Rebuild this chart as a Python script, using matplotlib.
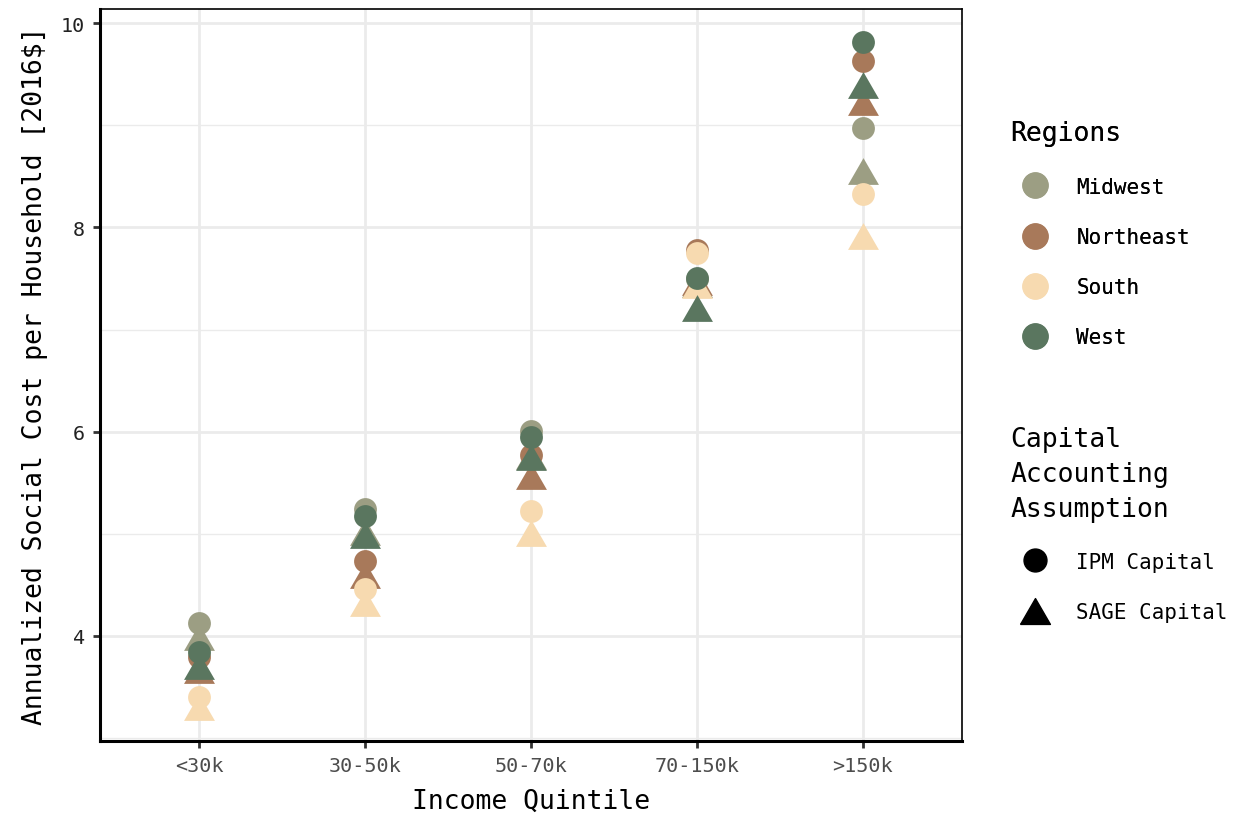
from matplotlib import pyplot as plt
from matplotlib.lines import Line2D

quintiles = ["<30k", "30-50k", "50-70k", "70-150k", ">150k"]
regions = ["Midwest", "Northeast", "South", "West"]
region_colors = ["#9C9E83", "#A8795A", "#F7DAB0", "#5A765F"]

# annualized social cost per household, one list per region and capital assumption
ipm = {
    "Midwest":   [4.13, 5.24, 6.01, 7.50, 8.97],
    "Northeast": [3.79, 4.73, 5.77, 7.78, 9.63],
    "South":     [3.40, 4.46, 5.22, 7.75, 8.33],
    "West":      [3.84, 5.17, 5.95, 7.51, 9.82],
}
sage = {
    "Midwest":   [3.99, 5.02, 5.76, 7.45, 8.55],
    "Northeast": [3.67, 4.60, 5.57, 7.47, 9.23],
    "South":     [3.30, 4.32, 5.01, 7.44, 7.92],
    "West":      [3.70, 4.99, 5.75, 7.21, 9.40],
}

plt.rcParams["font.family"] = ["DejaVu Sans Mono"]

# equilateral triangle like R's pch 17
tri = [(-1, -0.866), (1, -0.866), (0, 0.866), (-1, -0.866)]

fig = plt.figure(figsize=(12.34, 8.2), dpi=100)
ax = fig.add_axes([0.081, 0.0951, 0.6986, 0.8927])

x = list(range(len(quintiles)))
for region, color in zip(regions, region_colors):
    ax.scatter(x, ipm[region], s=270, marker="o", color=color, linewidths=0, zorder=3)
    ax.scatter(x, sage[region], s=495, marker=tri, color=color, linewidths=0, zorder=3)

ax.set_xlim(-0.6, 4.6)
ax.set_ylim(2.97, 10.14)
ax.set_xticks(x)
ax.set_xticklabels(quintiles)
ax.set_yticks([4, 6, 8, 10])
ax.set_yticks([3, 5, 7, 9], minor=True)
ax.set_xticks([], minor=True)

ax.grid(True, which="major", color="#EBEBEB", linewidth=2, zorder=0)
ax.grid(True, which="minor", axis="y", color="#EBEBEB", linewidth=1, zorder=0)
ax.set_axisbelow(True)

for side in ["top", "right"]:
    ax.spines[side].set_linewidth(1.2)
for side in ["left", "bottom"]:
    ax.spines[side].set_linewidth(2.2)
for s in ax.spines.values():
    s.set_color("black")

ax.tick_params(axis="both", which="major", length=5, width=2, color="#333333",
               labelsize=14.5, labelcolor="#4D4D4D", pad=6)
ax.tick_params(axis="y", labelcolor="#222222")
ax.tick_params(which="minor", length=0)

ax.set_xlabel("Income Quintile", fontsize=19, labelpad=9)
ax.set_ylabel("Annualized Social Cost per Household [2016$]", fontsize=19, labelpad=9)

region_handles = [Line2D([0], [0], marker="o", linestyle="", markersize=19,
                         markerfacecolor=c, markeredgewidth=0) for c in region_colors]
leg1 = fig.legend(region_handles, regions, title="Regions", loc="upper left",
                  bbox_to_anchor=(0.812, 0.862), frameon=False, fontsize=15,
                  title_fontsize=19, labelspacing=1.45, handletextpad=0.77,
                  handlelength=2.4, alignment="left", borderaxespad=0)
fig.add_artist(leg1)

shape_handles = [
    Line2D([0], [0], marker="o", linestyle="", markersize=16.5, color="black"),
    Line2D([0], [0], marker=tri, linestyle="", markersize=21.5, color="black"),
]
leg2 = fig.legend(shape_handles, ["IPM Capital", "SAGE Capital"],
                  title="Capital\nAccounting\nAssumption", loc="upper left",
                  bbox_to_anchor=(0.812, 0.490), frameon=False, fontsize=15,
                  title_fontsize=19, labelspacing=1.45, handletextpad=0.77,
                  handlelength=2.4, alignment="left", borderaxespad=0)
leg2.get_title().set_linespacing(1.45)

fig.savefig("out.png", dpi=100)
